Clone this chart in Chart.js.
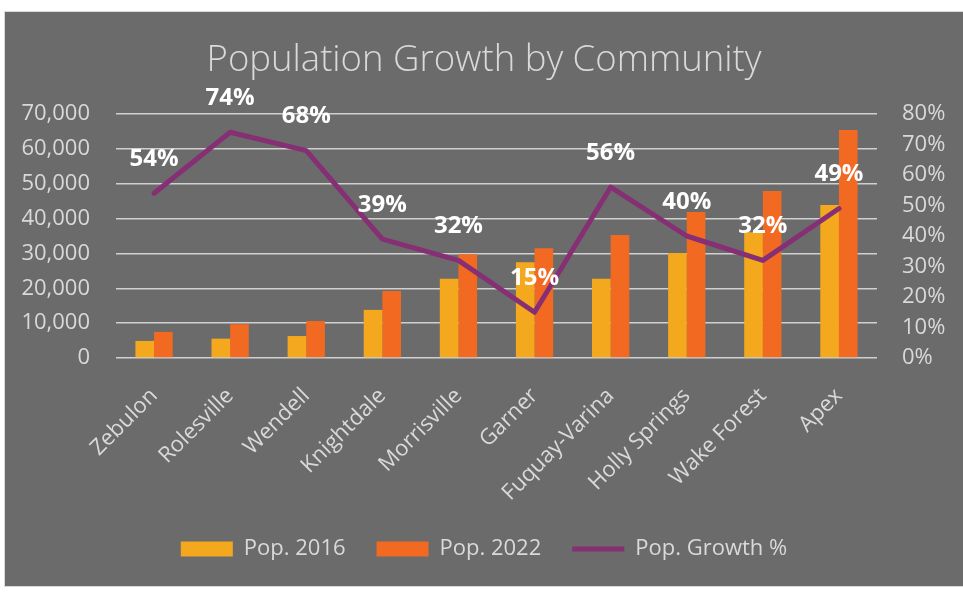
<!DOCTYPE html>
<html>
<head>
<meta charset="utf-8">
<script src="https://cdn.jsdelivr.net/npm/chart.js@4.4.1/dist/chart.umd.min.js"></script>
<style>
html,body{margin:0;padding:0;background:#ffffff;}
#wrap{position:absolute;left:0;top:0;width:963px;height:593px;}
</style>
</head>
<body>
<div id="wrap"><canvas id="c" width="963" height="593"></canvas></div>
<script>
const categories = ["Zebulon","Rolesville","Wendell","Knightdale","Morrisville","Garner","Fuquay-Varina","Holly Springs","Wake Forest","Apex"];
const pop2016 = [4900, 5550, 6300, 13800, 22700, 27500, 22700, 30100, 36100, 43900];
const pop2022 = [7500, 9700, 10600, 19200, 29800, 31500, 35300, 41900, 47900, 65400];
const growth = [0.54, 0.74, 0.68, 0.39, 0.32, 0.15, 0.56, 0.40, 0.32, 0.49];
const seriesNames = ["Pop. 2016", "Pop. 2022", "Pop. Growth %"];
const titleText = "Population Growth by Community";

const FONT = "'Open Sans', 'Noto Sans', sans-serif";
const TXT = "#d9d9d9";

const bgPlugin = {
  id: 'bg',
  beforeDraw(chart) {
    const ctx = chart.ctx;
    ctx.save();
    ctx.fillStyle = '#ffffff';
    ctx.fillRect(0, 0, chart.width, chart.height);
    ctx.fillStyle = '#6b6b6b';
    ctx.fillRect(5, 12, 958, 574);
    ctx.strokeStyle = '#d9d9d9';
    ctx.lineWidth = 1;
    ctx.beginPath();
    ctx.moveTo(4.5, 586.5); ctx.lineTo(4.5, 11.5); ctx.lineTo(963, 11.5);
    ctx.moveTo(4.5, 586.5); ctx.lineTo(963, 586.5);
    ctx.stroke();
    ctx.restore();
  }
};

const labelPlugin = {
  id: 'pctLabels',
  afterDatasetsDraw(chart) {
    const meta = chart.getDatasetMeta(2);
    const ctx = chart.ctx;
    ctx.save();
    ctx.font = "bold 24px " + FONT;
    ctx.fillStyle = '#ffffff';
    ctx.textAlign = 'center';
    ctx.textBaseline = 'middle';
    meta.data.forEach((pt, i) => {
      ctx.fillText(Math.round(growth[i] * 100) + '%', pt.x, pt.y - 34);
    });
    ctx.restore();
  }
};

new Chart(document.getElementById('c'), {
  type: 'bar',
  data: {
    labels: categories,
    datasets: [
      { type: 'bar', label: seriesNames[0], data: pop2016, backgroundColor: '#f4a81e', yAxisID: 'y', order: 1,
        categoryPercentage: 0.49, barPercentage: 1.0 },
      { type: 'bar', label: seriesNames[1], data: pop2022, backgroundColor: '#f26a22', yAxisID: 'y', order: 1,
        categoryPercentage: 0.49, barPercentage: 1.0 },
      { type: 'line', label: seriesNames[2], data: growth, borderColor: '#862f74', backgroundColor: '#862f74',
        borderWidth: 5, pointRadius: 0, pointHoverRadius: 0, tension: 0, yAxisID: 'y1', order: 0,
        borderJoinStyle: 'round', borderCapStyle: 'round' }
    ]
  },
  options: {
    responsive: false,
    animation: false,
    devicePixelRatio: 1,
    layout: { padding: { left: 5, top: 12, right: 0, bottom: 23 } },
    plugins: {
      title: {
        display: true, text: titleText, color: TXT,
        font: { family: FONT, size: 36.5, weight: '300', lineHeight: 1.2 },
        padding: { top: 27, bottom: 31.2 }
      },
      legend: {
        position: 'bottom',
        labels: {
          color: TXT,
          font: { family: FONT, size: 22 },
          usePointStyle: true,
          pointStyleWidth: 52,
          boxHeight: 15,
          padding: 31,
          generateLabels(chart) {
            return chart.data.datasets.map((ds, i) => ({
              text: ds.label,
              datasetIndex: i,
              fillStyle: ds.type === 'line' ? ds.borderColor : ds.backgroundColor,
              strokeStyle: ds.type === 'line' ? ds.borderColor : ds.backgroundColor,
              lineWidth: ds.type === 'line' ? 5 : 0,
              pointStyle: ds.type === 'line' ? 'line' : 'rect',
              fontColor: TXT,
              hidden: false
            }));
          }
        }
      },
      tooltip: { enabled: false }
    },
    scales: {
      x: {
        grid: { display: false, drawTicks: false },
        border: { display: false },
        ticks: { color: TXT, font: { family: FONT, size: 22 }, minRotation: 45, maxRotation: 45, padding: 25, autoSkip: false },
        afterFit(s) { s.height = 149; }
      },
      y: {
        position: 'left', min: 0, max: 70000,
        grid: { color: '#d0d0d0', lineWidth: 1.5, drawTicks: false },
        border: { display: false },
        ticks: { stepSize: 10000, color: TXT, font: { family: FONT, size: 22 }, padding: 26,
          callback: v => v.toLocaleString('en-US') },
        afterFit(s) { s.width = 111; }
      },
      y1: {
        position: 'right', min: 0, max: 0.8,
        grid: { display: false, drawTicks: false },
        border: { display: false },
        ticks: { stepSize: 0.1, color: TXT, font: { family: FONT, size: 22 }, padding: 25,
          callback: v => Math.round(v * 100) + '%' },
        afterFit(s) { s.width = 86; }
      }
    }
  },
  plugins: [bgPlugin, labelPlugin]
});
</script>
</body>
</html>
